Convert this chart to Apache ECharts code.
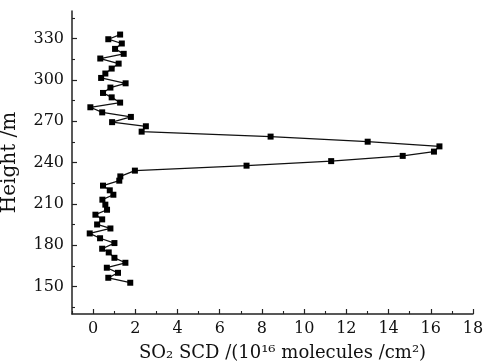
<!DOCTYPE html>
<html>
<head>
<meta charset="utf-8">
<script src="https://cdn.jsdelivr.net/npm/echarts@6/dist/echarts.min.js"></script>
<style>
  html, body { margin: 0; padding: 0; background: #fff; }
  #chart { width: 484px; height: 362px; }
</style>
</head>
<body>
<div id="chart"></div>
<script>
// SO2 SCD (10^16 molecules/cm^2) and height (m), bottom to top
var heights = [152.7, 156.3, 159.9, 163.6, 167.2, 170.8, 174.7, 177.4, 181.5, 185.0,
               188.5, 192.1, 195.0, 198.7, 202.1, 205.7, 209.4, 213.0, 216.6, 219.8,
               223.2, 226.8, 229.9, 234.1, 237.7, 241.0, 244.8, 247.9, 251.7, 255.1,
               258.8, 262.4, 266.3, 269.3, 273.1, 276.4, 280.1, 283.5, 287.3, 290.5,
               294.4, 297.5, 301.4, 304.6, 308.2, 311.8, 315.5, 318.9, 322.5, 326.4,
               329.5, 332.9];
var scd = [1.76, 0.72, 1.18, 0.65, 1.53, 1.01, 0.74, 0.43, 1.01, 0.33,
           -0.16, 0.82, 0.19, 0.43, 0.11, 0.66, 0.58, 0.44, 0.96, 0.79,
           0.47, 1.24, 1.29, 1.98, 7.27, 11.28, 14.67, 16.15, 16.41, 13.01,
           8.41, 2.30, 2.50, 0.90, 1.79, 0.43, -0.13, 1.28, 0.88, 0.47,
           0.82, 1.54, 0.38, 0.58, 0.88, 1.21, 0.34, 1.45, 1.04, 1.36,
           0.72, 1.28];
var xMajorTicks = [0, 2, 4, 6, 8, 10, 12, 14, 16, 18];
var xMinorTicks = [-1, 1, 3, 5, 7, 9, 11, 13, 15, 17];
var yMajorTicks = [150, 180, 210, 240, 270, 300, 330];
var yMinorTicks = [135, 165, 195, 225, 255, 285, 315, 345];
var xName = 'SO\u2082 SCD /(10\u00b9\u2076 molecules /cm\u00b2)';
var yName = 'Height /m';

var points = scd.map(function (v, i) { return [v, heights[i]]; });

var font = 'DejaVu Serif';
var axisColor = '#222';

var chart = echarts.init(document.getElementById('chart'), null, { renderer: 'canvas' });
chart.setOption({
  backgroundColor: '#fff',
  animation: false,
  grid: { left: 72, right: 11, top: 11, bottom: 48, containLabel: false, outerBoundsMode: 'none' },
  xAxis: [
    {
      type: 'value', min: -1, max: 18, position: 'bottom',
      axisLine: { show: true, onZero: false, lineStyle: { color: axisColor, width: 1.5 } },
      axisTick: { show: true, inside: true, length: 5, customValues: xMajorTicks, lineStyle: { color: axisColor, width: 1.2 } },
      axisLabel: { customValues: xMajorTicks, fontFamily: font, fontSize: 16, color: '#111', margin: 7 },
      splitLine: { show: false },
      name: xName, nameLocation: 'middle', nameGap: 30,
      nameTextStyle: { fontFamily: font, fontSize: 18, color: '#111', padding: [0, 0, 0, 20] }
    },
    {
      type: 'value', min: -1, max: 18, position: 'bottom',
      axisLine: { show: true, onZero: false, lineStyle: { color: axisColor, width: 1.5, opacity: 0 } },
      axisTick: { show: true, inside: true, length: 3, customValues: xMinorTicks, lineStyle: { color: axisColor, width: 1.1 } },
      axisLabel: { show: false },
      splitLine: { show: false }
    }
  ],
  yAxis: [
    {
      type: 'value', min: 130, max: 350, position: 'left',
      axisLine: { show: true, onZero: false, lineStyle: { color: axisColor, width: 1.5 } },
      axisTick: { show: true, inside: true, length: 5, customValues: yMajorTicks, lineStyle: { color: axisColor, width: 1.2 } },
      axisLabel: { customValues: yMajorTicks, fontFamily: font, fontSize: 16, color: '#111', margin: 8 },
      splitLine: { show: false },
      name: yName, nameLocation: 'middle', nameGap: 52, nameRotate: 90,
      nameTextStyle: { fontFamily: font, fontSize: 20, color: '#111' }
    },
    {
      type: 'value', min: 130, max: 350, position: 'left',
      axisLine: { show: true, onZero: false, lineStyle: { color: axisColor, width: 1.5, opacity: 0 } },
      axisTick: { show: true, inside: true, length: 3, customValues: yMinorTicks, lineStyle: { color: axisColor, width: 1.1 } },
      axisLabel: { show: false },
      splitLine: { show: false }
    }
  ],
  series: [{
    type: 'line',
    xAxisIndex: 0, yAxisIndex: 0,
    data: points,
    symbol: 'rect', symbolSize: 6,
    itemStyle: { color: '#000' },
    lineStyle: { color: '#111', width: 1.3 }
  }]
});
</script>
</body>
</html>
